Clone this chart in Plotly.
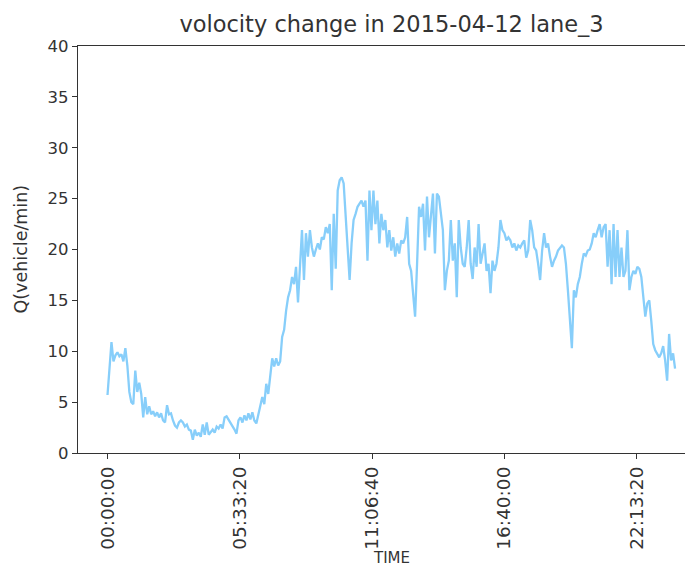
import plotly.graph_objects as go

# Q(vehicle/min) per 5-minute interval, 2015-04-12, lane 3
interval_s = 300
values = [
    5.7, 8.5, 10.9, 9.0, 9.6, 9.9, 9.5, 9.7, 9.0, 10.3,
    8.6, 6.0, 5.0, 4.8, 8.1, 6.0, 6.9, 5.8, 3.5, 5.5,
    3.8, 4.6, 3.8, 4.1, 3.6, 4.0, 3.5, 3.9, 3.2, 3.0,
    4.7, 3.8, 3.9, 3.2, 2.7, 2.5, 3.0, 3.2, 3.0, 2.6,
    2.8, 2.3, 2.2, 1.3, 2.3, 1.7, 2.0, 1.6, 2.8, 1.8,
    3.0, 1.8, 2.1, 2.3, 2.0, 2.6, 2.4, 2.8, 2.4, 3.5,
    3.6, 3.3, 3.0, 2.7, 2.3, 1.9, 3.2, 3.5, 3.0, 3.7,
    3.2, 3.9, 3.3, 4.0, 3.2, 2.9, 3.8, 4.5, 5.5, 4.8,
    6.8, 5.8, 7.8, 9.3, 8.5, 9.3, 8.6, 9.0, 11.4, 12.1,
    14.0, 15.3, 16.0, 17.3, 16.6, 18.3, 14.8, 18.6, 21.9, 17.0,
    21.6, 19.3, 21.9, 20.2, 19.3, 20.0, 20.6, 20.0, 21.2, 21.0,
    22.2, 21.6, 22.5, 16.0, 23.5, 18.1, 25.8, 26.8, 27.1, 26.5,
    23.5, 20.0, 17.0, 20.6, 22.9, 23.5, 24.2, 24.5, 24.8, 24.2,
    24.8, 18.9, 25.8, 21.9, 25.8, 22.5, 24.8, 20.6, 23.5, 21.9,
    22.9, 20.2, 21.9, 19.9, 21.2, 19.3, 20.6, 19.6, 20.9, 20.6,
    21.2, 23.2, 18.6, 17.9, 15.3, 13.4, 18.6, 24.2, 23.2, 24.5,
    19.9, 25.2, 21.2, 23.5, 25.5, 19.6, 25.5, 25.2, 23.2, 21.9,
    16.0, 17.9, 18.9, 22.9, 18.9, 20.6, 15.3, 22.9, 20.2, 18.6,
    18.3, 20.2, 22.9, 18.6, 17.1, 20.2, 18.3, 22.5, 18.6, 19.6,
    20.6, 17.9, 18.6, 15.7, 18.9, 17.9, 18.6, 20.2, 22.9, 21.9,
    21.6, 20.9, 21.2, 20.9, 20.2, 20.6, 19.9, 20.4, 20.2, 20.6,
    20.9, 19.2, 19.9, 22.9, 21.9, 20.2, 19.9, 18.6, 17.0, 19.9,
    21.6, 20.2, 20.6, 19.3, 18.3, 18.9, 19.3, 19.9, 20.2, 20.4,
    20.2, 18.6, 16.0, 13.0, 10.3, 16.0, 15.3, 16.6, 17.3, 18.6,
    19.6, 19.4, 19.9, 20.0, 20.6, 21.6, 21.2, 21.9, 22.5, 21.2,
    22.2, 22.5, 18.3, 21.9, 16.6, 22.5, 17.3, 21.9, 17.3, 20.2,
    17.3, 17.9, 21.9, 16.0, 17.3, 17.9, 17.6, 18.3, 18.1, 17.3,
    15.3, 13.4, 14.7, 15.0, 13.0, 10.7, 10.1, 9.8, 9.4, 9.8,
    10.5, 9.1, 7.1, 11.7, 9.1, 9.8, 8.3,
]
times_s = [i * interval_s for i in range(len(values))]

x_tickvals = [0, 20000, 40000, 60000, 80000]
x_ticktext = ["00:00:00", "05:33:20", "11:06:40", "16:40:00", "22:13:20"]
y_tickvals = [0, 5, 10, 15, 20, 25, 30, 35, 40]

title_text = "volocity change in 2015-04-12 lane_3"
x_title = "TIME"
y_title = "Q(vehicle/min)"

# the page body adds an 8px offset, so the figure is sized to fill the rest
OFF = 8
W, H = 693 - OFF, 570 - OFF
ML, MR, MT, MB = 78 - OFF, 0, 46 - OFF, 117
plot_w = W - ML - MR
plot_h = H - MT - MB

ink = "#333333"
font_family = "DejaVu Sans"

fig = go.Figure()
fig.add_trace(go.Scatter(
    x=times_s, y=values, mode="lines",
    line=dict(color="#87CEFA", width=2.3),
    hoverinfo="skip", showlegend=False,
))

fig.update_layout(
    width=W, height=H,
    margin=dict(l=ML, r=MR, t=MT, b=MB, pad=0),
    paper_bgcolor="white", plot_bgcolor="white",
    font=dict(family=font_family, size=16, color=ink),
    title=dict(
        text=title_text, font=dict(size=22.5, color=ink, family=font_family),
        xref="container", x=(391.5 - OFF) / W, xanchor="center",
        yref="container", y=1 - (24 - OFF) / H, yanchor="middle",
    ),
    xaxis=dict(
        range=[-4460, 88511],
        tickvals=x_tickvals, ticktext=x_ticktext, tickangle=-90,
        ticks="outside", ticklen=5, tickwidth=1.3, tickcolor=ink,
        showline=True, linecolor=ink, linewidth=1.4, mirror=True,
        showgrid=False, zeroline=False, fixedrange=True,
        tickfont=dict(size=18.5),
    ),
    yaxis=dict(
        range=[0, 40], tickvals=y_tickvals,
        ticks="outside", ticklen=5, tickwidth=1.3, tickcolor=ink,
        showline=True, linecolor=ink, linewidth=1.4, mirror=False,
        showgrid=False, zeroline=False, fixedrange=True,
        tickfont=dict(size=16.5),
    ),
    annotations=[
        dict(text=y_title, textangle=-90, showarrow=False,
             xref="paper", yref="paper",
             x=(20 - 78) / plot_w, y=0.5, xanchor="center", yanchor="middle",
             font=dict(size=17.5, color=ink)),
        dict(text=x_title, showarrow=False,
             xref="paper", yref="paper",
             x=(391 - 78) / plot_w, y=-(568 - 453) / plot_h,
             xanchor="center", yanchor="bottom", borderpad=0,
             font=dict(size=15, color=ink)),
    ],
)

fig.write_html("out.html")
